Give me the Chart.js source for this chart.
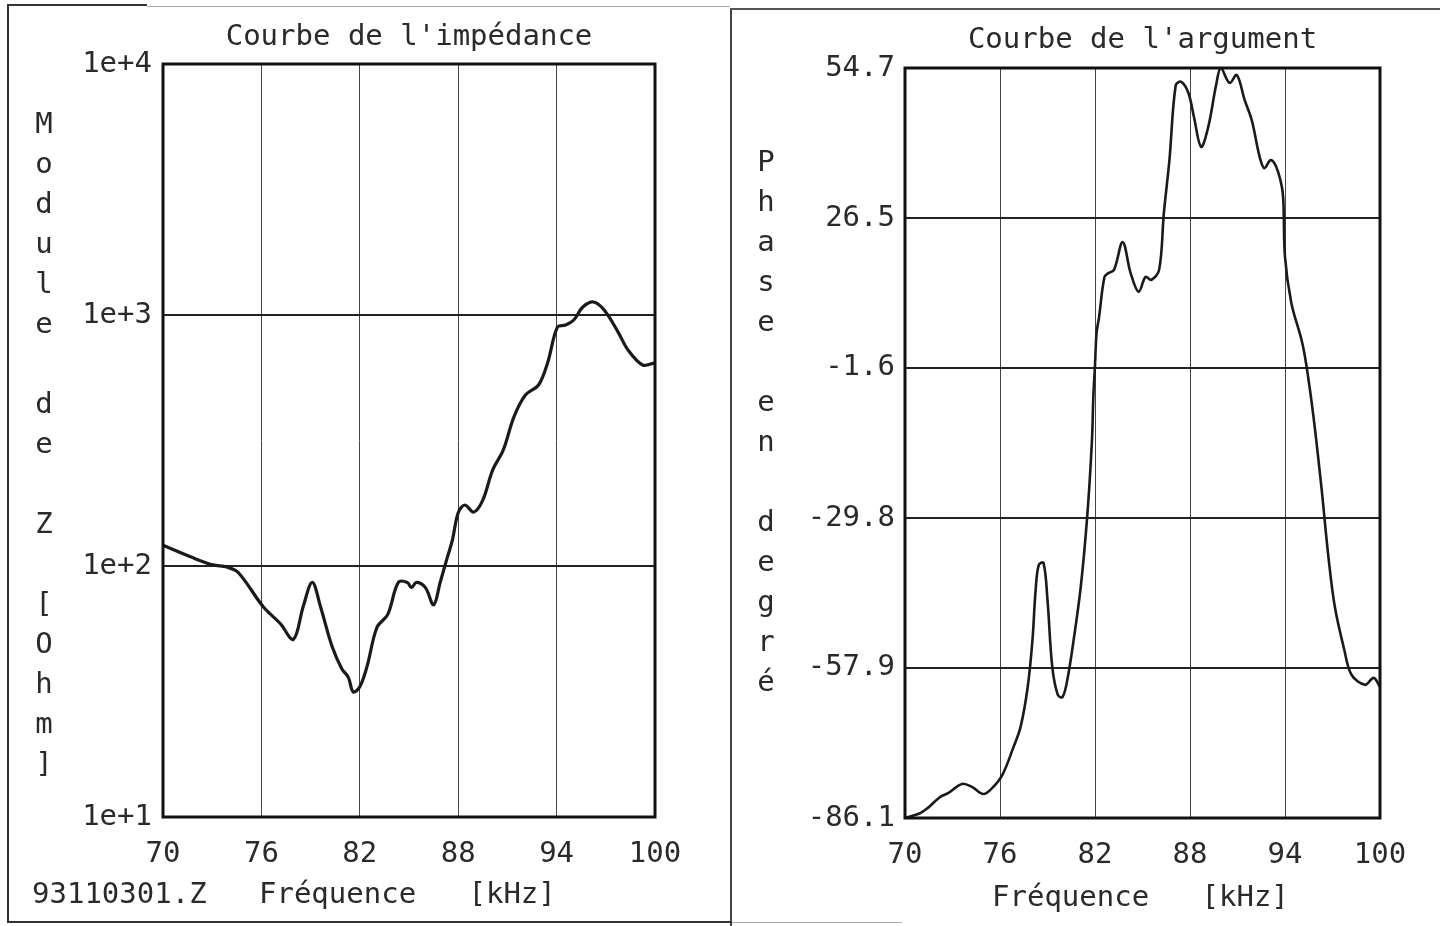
<!DOCTYPE html>
<html>
<head>
<meta charset="utf-8">
<script src="https://cdn.jsdelivr.net/npm/chart.js@4.4.0/dist/chart.umd.min.js"></script>
<style>
  html, body { margin: 0; padding: 0; background: #fff; }
  body { width: 1440px; height: 926px; position: relative; overflow: hidden; }
  canvas { position: absolute; top: 0; }
  #left { left: 0; }
  #right { left: 730px; }
  .rule { position: absolute; background: #333; }
  #date { position: absolute; left: 1160px; top: -30px; font: 29px 'DejaVu Sans Mono', monospace; color: #333; white-space: pre; }
</style>
</head>
<body>
<div id="date">DATE:  11-03-1993</div>
<canvas id="left" width="730" height="926"></canvas>
<canvas id="right" width="710" height="926"></canvas>
<div class="rule" style="left:7px;top:5px;width:2px;height:918px"></div>
<div class="rule" style="left:7px;top:4px;width:140px;height:2px"></div>
<div class="rule" style="left:147px;top:6px;width:583px;height:1px;background:#aaa"></div>
<div class="rule" style="left:730px;top:8px;width:2px;height:918px;background:#444"></div>
<div class="rule" style="left:730px;top:8px;width:710px;height:2px;background:#555"></div>
<div class="rule" style="left:7px;top:921px;width:725px;height:2px"></div>
<div class="rule" style="left:732px;top:922px;width:170px;height:1px;background:#aaa"></div>
<script>
// courbe de l'impédance (module, Ohm)
const impFreq = [70, 71.8, 73.05, 73.9, 74.6, 76.1, 77.15, 77.95, 78.55, 79.1, 79.6, 80.3, 80.9, 81.3, 81.6,
  82.0, 82.45, 83.05, 83.7, 84.35, 84.9, 85.15, 85.45, 86.0, 86.5, 86.9, 87.35, 87.65, 88.0, 88.4, 88.95,
  89.5, 90.1, 90.75, 91.4, 92.1, 92.9, 93.45, 94.05, 94.55, 95.05, 95.6, 96.25, 96.9, 97.75, 98.35, 99.25, 100];
const impModule = [121, 108, 101, 99, 94, 69, 59, 51, 69, 86, 69, 48, 39, 36, 31.5,
  33, 40, 57, 64, 86, 86, 82, 86, 82, 70, 86, 109, 127, 163, 175, 164,
  183, 241, 290, 393, 480, 526, 644, 895, 912, 955, 1076, 1127, 1047, 855, 726, 632, 645];

// courbe de l'argument (phase, degrés)
const argFreq = [70, 70.95, 71.45, 72.2, 72.75, 73.6, 74.25, 74.95, 75.5, 76.15, 76.85, 77.3, 77.75, 78.05,
  78.25, 78.45, 78.75, 79.0, 79.3, 79.65, 79.95, 80.25, 80.65, 81.1, 81.5, 81.8, 81.9, 82.0, 82.1, 82.25,
  82.6, 82.85, 83.2, 83.75, 84.25, 84.75, 85.2, 85.55, 86.05, 86.35, 86.7, 87.1, 87.45, 87.9, 88.25, 88.7,
  89.15, 89.65, 89.95, 90.5, 90.95, 91.45, 91.9, 92.4, 92.7, 93.1, 93.45, 93.8, 93.9, 94.0, 94.4, 95.05,
  95.35, 95.8, 96.3, 96.75, 97.15, 97.75, 98.2, 99.05, 99.6, 100];
const argPhase = [-86.1, -85.2, -84.2, -82.2, -81.4, -79.7, -80.3, -81.6, -80.5, -78.0, -72.8, -69.0, -61.5, -52.7,
  -43.3, -38.6, -38.2, -45.2, -57.7, -63.0, -63.4, -60.2, -52.7, -42.7, -29.8, -15.7, -6.7, -1.1, 5.0, 7.8,
  15.5, 16.2, 16.8, 22.0, 16.2, 12.7, 15.5, 14.9, 16.8, 27.5, 37.4, 51.5, 52.1, 50.0, 45.5, 39.9,
  43.6, 51.5, 54.7, 51.9, 53.4, 48.7, 44.9, 38.0, 35.9, 37.4, 36.1, 32.4, 29.4, 19.2, 10.6, 3.6,
  -1.1, -10.8, -24.0, -37.3, -46.5, -54.6, -59.2, -61.1, -59.8, -61.5];

const freqTicks = [70, 76, 82, 88, 94, 100];
const impTicks = [10, 100, 1000, 10000];
const impTickLabels = ['1e+1', '1e+2', '1e+3', '1e+4'];
const argTicks = [-86.1, -57.9, -29.8, -1.6, 26.5, 54.7];

const FONT = 'DejaVu Sans Mono';
const INK = '#2a2a2a';

// cadre du graphe + textes du traceur
const plotText = {
  id: 'plotText',
  afterDraw(chart, args, opts) {
    const ctx = chart.ctx;
    const a = chart.chartArea;
    ctx.save();
    ctx.strokeStyle = '#111';
    ctx.lineWidth = 3;
    ctx.strokeRect(a.left, a.top, a.right - a.left, a.bottom - a.top);
    ctx.fillStyle = INK;
    ctx.font = '29px "' + FONT + '"';
    ctx.textAlign = 'center';
    ctx.textBaseline = 'middle';
    ctx.fillText(opts.title, (a.left + a.right) / 2, opts.titleY);
    // étiquette verticale, une lettre par ligne
    opts.yLabel.split('').forEach(function (ch, i) {
      ctx.fillText(ch, opts.yLabelX, opts.yLabelY + i * 40);
    });
    ctx.textAlign = 'left';
    ctx.fillText(opts.xLabel, opts.xLabelX, opts.xLabelY);
    ctx.restore();
  }
};

function toPoints(xs, ys) {
  return xs.map(function (x, i) { return { x: x, y: ys[i] }; });
}

function xScale() {
  return {
    type: 'linear',
    min: 70,
    max: 100,
    afterBuildTicks: function (scale) { scale.ticks = freqTicks.map(function (v) { return { value: v }; }); },
    afterFit: function (scale) { scale.height = 60; },
    grid: { color: '#444', lineWidth: 1, drawTicks: false },
    border: { display: false },
    ticks: { color: INK, font: { family: FONT, size: 29 }, padding: 20, maxRotation: 0 }
  };
}

function makeChart(id, cfg) {
  return new Chart(document.getElementById(id), {
    type: 'line',
    data: {
      datasets: [{
        data: cfg.points,
        borderColor: '#1a1a1a',
        borderWidth: cfg.lineWidth,
        pointRadius: 0,
        tension: 0.35,
        fill: false
      }]
    },
    options: {
      responsive: false,
      animation: false,
      devicePixelRatio: 1,
      layout: { padding: cfg.padding },
      plugins: { legend: { display: false }, tooltip: { enabled: false }, plotText: cfg.text },
      scales: { x: xScale(), y: cfg.y }
    },
    plugins: [plotText]
  });
}

makeChart('left', {
  points: toPoints(impFreq, impModule),
  lineWidth: 3.2,
  padding: { left: 0, right: 75, top: 64, bottom: 49 },
  y: {
    type: 'logarithmic',
    min: 10,
    max: 10000,
    afterBuildTicks: function (scale) { scale.ticks = impTicks.map(function (v) { return { value: v }; }); },
    afterFit: function (scale) { scale.width = 163; },
    grid: { color: '#222', lineWidth: 2, drawTicks: false },
    border: { display: false },
    ticks: {
      color: INK, font: { family: FONT, size: 29 }, padding: 11,
      callback: function (v, i) { return impTickLabels[i]; }
    }
  },
  text: {
    title: "Courbe de l'impédance", titleY: 37,
    yLabel: 'Module de Z [Ohm]', yLabelX: 44, yLabelY: 125,
    xLabel: '93110301.Z   Fréquence   [kHz]', xLabelX: 32, xLabelY: 895
  }
});

makeChart('right', {
  points: toPoints(argFreq, argPhase),
  lineWidth: 2.6,
  padding: { left: 0, right: 60, top: 68, bottom: 48 },
  y: {
    type: 'linear',
    min: -86.1,
    max: 54.7,
    afterBuildTicks: function (scale) { scale.ticks = argTicks.map(function (v) { return { value: v }; }); },
    afterFit: function (scale) { scale.width = 175; },
    grid: { color: '#222', lineWidth: 2, drawTicks: false },
    border: { display: false },
    ticks: {
      color: INK, font: { family: FONT, size: 29 }, padding: 10,
      callback: function (v) { return v.toFixed(1); }
    }
  },
  text: {
    title: "Courbe de l'argument", titleY: 40,
    yLabel: 'Phase en degré', yLabelX: 36, yLabelY: 163,
    xLabel: 'Fréquence   [kHz]', xLabelX: 262, xLabelY: 898
  }
});
</script>
</body>
</html>
